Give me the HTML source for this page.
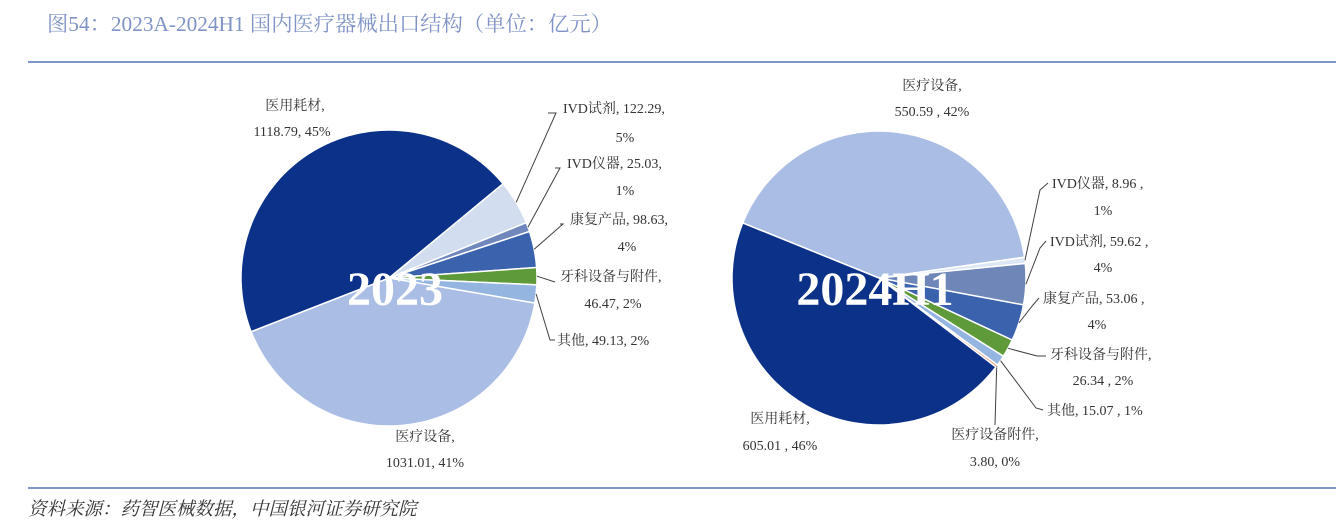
<!DOCTYPE html>
<html><head><meta charset="utf-8">
<style>
body{margin:0;background:#fff;width:1339px;height:524px;overflow:hidden}
svg{display:block}
text{font-family:"Liberation Serif","Noto Serif CJK SC",serif}
</style></head>
<body>
<svg id="chart" width="1339" height="524" viewBox="0 0 1339 524" xmlns="http://www.w3.org/2000/svg">
<text x="47" y="31" font-size="21.3" fill="#7f93c6">图54：2023A-2024H1 国内医疗器械出口结构（单位：亿元）</text>
<line x1="28" y1="62" x2="1336" y2="62" stroke="#7f97c8" stroke-width="2"/>
<line x1="28" y1="488" x2="1336" y2="488" stroke="#7f97c8" stroke-width="2"/>
<text x="28" y="515" font-size="18.5" font-style="italic" fill="#333">资料来源：药智医械数据，中国银河证券研究院</text>
<g id="pies"></g>
</svg>
<script>
const cats2023 = ["IVD试剂","IVD仪器","康复产品","牙科设备与附件","其他","医疗设备","医用耗材"];
const vals2023 = [122.29,25.03,98.63,46.47,49.13,1031.01,1118.79];
const pct2023 = ["5%","1%","4%","2%","2%","41%","45%"];
const cats2024 = ["医疗设备","IVD仪器","IVD试剂","康复产品","牙科设备与附件","其他","医疗设备附件","医用耗材"];
const vals2024 = [550.59,8.96,59.62,53.06,26.34,15.07,3.80,605.01];
const pct2024 = ["42%","1%","4%","4%","2%","1%","0%","46%"];

const colorMap2023 = {"IVD试剂":"#d2ddf0","IVD仪器":"#7087bd","康复产品":"#3a62ad","牙科设备与附件":"#5e9a3a","其他":"#94b5df","医疗设备":"#a9bde5","医用耗材":"#0b3189"};
const colorMap2024 = {"医疗设备":"#a9bde5","IVD仪器":"#dce6f4","IVD试剂":"#6f86b8","康复产品":"#3a62ad","牙科设备与附件":"#5e9a3a","其他":"#94b5df","医疗设备附件":"#f0a080","医用耗材":"#0b3189"};

const layout2023 = {
 "IVD试剂":{l1:[563,113,"start"],l2:[625,142,"middle"],fmt:"c",lead:[[556,113],[548,113]]},
 "IVD仪器":{l1:[567,168,"start"],l2:[625,195,"middle"],fmt:"c",lead:[[560,168],[555,168]]},
 "康复产品":{l1:[570,224,"start"],l2:[627,251,"middle"],fmt:"c",lead:[[563,224],[560,224]]},
 "牙科设备与附件":{l1:[560,281,"start"],l2:[613,308,"middle"],fmt:"n",lead:[[555,282]]},
 "其他":{l1:[557,345,"start"],l2:null,fmt:"one",lead:[[550,340],[555,340]]},
 "医疗设备":{l1:[425,441,"middle"],l2:[425,467,"middle"],fmt:"n",lead:null},
 "医用耗材":{l1:[295,110,"middle"],l2:[292,136,"middle"],fmt:"n",lead:null}
};
const layout2024 = {
 "医疗设备":{l1:[932,90,"middle"],l2:[932,116,"middle"],fmt:"s",lead:null},
 "IVD仪器":{l1:[1052,188,"start"],l2:[1103,215,"middle"],fmt:"cs",lead:[[1040,190],[1048,183]]},
 "IVD试剂":{l1:[1050,246,"start"],l2:[1103,272,"middle"],fmt:"cs",lead:[[1040,248],[1046,241]]},
 "康复产品":{l1:[1043,303,"start"],l2:[1097,329,"middle"],fmt:"cs",lead:[[1033,305],[1039,298]]},
 "牙科设备与附件":{l1:[1050,359,"start"],l2:[1103,385,"middle"],fmt:"ns",lead:[[1037,356],[1046,356]]},
 "其他":{l1:[1047,415,"start"],l2:null,fmt:"ones",lead:[[1036,408],[1043,410]]},
 "医疗设备附件":{l1:[995,439,"middle"],l2:[995,466,"middle"],fmt:"n",lead:[[995,425]]},
 "医用耗材":{l1:[780,423,"middle"],l2:[780,450,"middle"],fmt:"ns",lead:null}
};

const NS="http://www.w3.org/2000/svg";
const root=document.getElementById('pies');
function mk(tag,attrs,parent){const e=document.createElementNS(NS,tag);for(const k in attrs)e.setAttribute(k,attrs[k]);(parent||root).appendChild(e);return e;}
function angleScale(v,total,start){return start+v/total*360;}
function pt(cx,cy,r,deg){const a=deg*Math.PI/180;return [cx+r*Math.cos(a),cy+r*Math.sin(a)];}

function drawPie(id,cats,vals,pcts,colors,layout,cx,cy,r,start,title,tdx){
  const g=mk('g',{});
  
  
  const total=vals.reduce((a,b)=>a+b,0);
  let acc=0;
  cats.forEach((c,i)=>{
    const a0=angleScale(acc,total,start);acc+=vals[i];const a1=angleScale(acc,total,start);
    const p0=pt(cx,cy,r,a0),p1=pt(cx,cy,r,a1);
    const large=(a1-a0)>180?1:0;
    const path=mk('path',{d:`M${cx},${cy}L${p0[0]},${p0[1]}A${r},${r} 0 ${large} 1 ${p1[0]},${p1[1]}Z`,fill:colors[c],stroke:'#fff','stroke-width':1.5},g);
    
    
    const L=layout[c];const mid=(a0+a1)/2;
    if(L.lead){
      const e=pt(cx,cy,r,mid);
      let pts=[e].concat(L.lead);
      const pl=mk('polyline',{points:pts.map(p=>p.join(',')).join(' '),fill:'none',stroke:'#404040','stroke-width':1},g);
      
      
    }
    const sp=L.fmt.endsWith('s')?' ':'';
    const v=vals[i].toFixed(2);
    let t1,t2;
    if(L.fmt.startsWith('c')){t1=c+', '+v+sp+',';t2=pcts[i];}
    else if(L.fmt.startsWith('one')){t1=c+', '+v+sp+', '+pcts[i];t2=null;}
    else {t1=c+',';t2=v+sp+', '+pcts[i];}
    const tx=mk('text',{x:L.l1[0],y:L.l1[1],'text-anchor':L.l1[2],'font-size':14,fill:'#333'},g);
    tx.textContent=t1;
    
    
    if(t2&&L.l2){
      const t=mk('text',{x:L.l2[0],y:L.l2[1],'text-anchor':L.l2[2],'font-size':14,fill:'#333'},g);
      t.textContent=t2;
      
      
    }
  });
  const tt=mk('text',{x:cx+tdx,y:cy+27,'text-anchor':'middle','font-size':48,'font-weight':'bold',fill:'#fff'},g);
  tt.textContent=title;
  
  
}
drawPie('y2023',cats2023,vals2023,pct2023,colorMap2023,layout2023,389,278,148,-39.6,'2023',6);
drawPie('y2024',cats2024,vals2024,pct2024,colorMap2024,layout2024,879,278,147,202,'2024H1',-4);
</script>
</body></html>
